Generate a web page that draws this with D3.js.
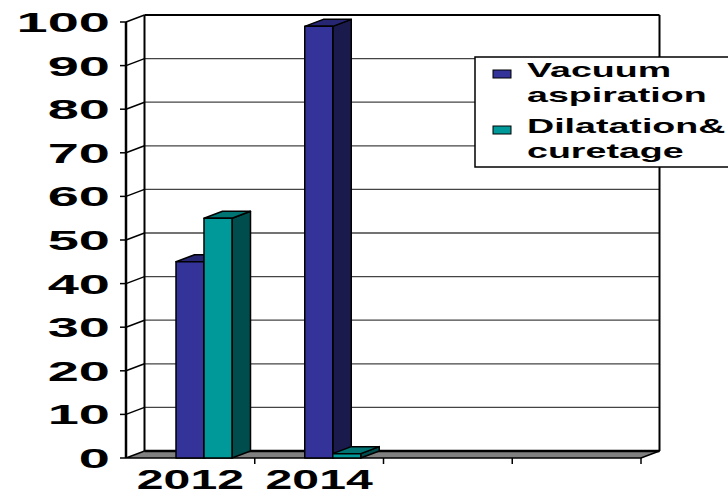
<!DOCTYPE html>
<html>
<head>
<meta charset="utf-8">
<script src="https://cdn.jsdelivr.net/npm/d3@7"></script>
<style>
  body { margin: 0; background: #fff; }
  svg { display: block; }
</style>
</head>
<body>
<div id="container"></div>
<script>
// data
const categories = ["2012", "2014", " ", "  "];
const seriesNames = ["Vacuum aspiration", "Dilatation& curetage"];
const legendLines = [["Vacuum", "aspiration"], ["Dilatation&", "curetage"]];
const vacuum = [45, 99, null, null];
const dilatation = [55, 1, null, null];
const yTicks = [0, 10, 20, 30, 40, 50, 60, 70, 80, 90, 100];

const width = 728, height = 492;
const depthX = 18.5, depthY = 7;   // oblique depth of the 3D box
const font = "Arial, 'Liberation Sans', sans-serif";

const colors = [
    { front: "#333399", side: "#1a1a4d", top: "#262673" },
    { front: "#009999", side: "#004d4d", top: "#007373" }
];

const x = d3.scaleBand().domain(categories).range([126, 641]);
const y = d3.scaleLinear().domain([0, 100]).range([458, 22]);
const xSub = d3.scaleBand().domain(seriesNames).range([50, 106]);

const svg = d3.create("svg")
    .attr("width", width)
    .attr("height", height)
    .attr("viewBox", [0, 0, width, height]);

const x0 = x.range()[0], x1 = x.range()[1];

/* ---------- back wall + gridlines ---------- */
const wall = svg.append("g");
wall.selectAll("line.grid")
    .data(yTicks.filter(t => t > 0))
    .join("line")
    .attr("x1", x0 + depthX).attr("x2", x1 + depthX)
    .attr("y1", d => y(d) - depthY).attr("y2", d => y(d) - depthY)
    .attr("stroke", d => d === 100 ? "#000" : "#444")
    .attr("stroke-width", d => d === 100 ? 2 : 1.3);

// left side wall connectors
wall.selectAll("line.conn")
    .data(yTicks.filter(t => t > 0))
    .join("line")
    .attr("x1", x0).attr("y1", d => y(d))
    .attr("x2", x0 + depthX).attr("y2", d => y(d) - depthY)
    .attr("stroke", "#000").attr("stroke-width", 1.5);

// wall verticals
[x0 + depthX, x1 + depthX].forEach(px => {
    wall.append("line")
        .attr("x1", px).attr("x2", px)
        .attr("y1", y(100) - depthY).attr("y2", y(0) - depthY)
        .attr("stroke", "#000").attr("stroke-width", 2);
});

/* ---------- floor ---------- */
svg.append("path")
    .attr("d", `M${x0},${y(0)}L${x1},${y(0)}L${x1 + depthX},${y(0) - depthY}L${x0 + depthX},${y(0) - depthY}Z`)
    .attr("fill", "#808080")
    .attr("stroke", "#000")
    .attr("stroke-width", 1.5);
svg.append("line")
    .attr("x1", x0 + depthX).attr("x2", x1 + depthX)
    .attr("y1", y(0) - depthY).attr("y2", y(0) - depthY)
    .attr("stroke", "#000").attr("stroke-width", 2.5);

/* ---------- front y axis ---------- */
svg.append("line")
    .attr("x1", x0).attr("x2", x0)
    .attr("y1", y(100)).attr("y2", y(0))
    .attr("stroke", "#000").attr("stroke-width", 2.5);

svg.selectAll("line.ytick")
    .data(yTicks)
    .join("line")
    .attr("x1", x0 - 6).attr("x2", x0)
    .attr("y1", d => y(d)).attr("y2", d => y(d))
    .attr("stroke", "#000").attr("stroke-width", 1.5);

svg.selectAll("text.ylab")
    .data(yTicks)
    .join("text")
    .attr("transform", d => `translate(110,${y(d) + 10}) scale(2,1)`)
    .attr("text-anchor", "end")
    .attr("font-family", font)
    .attr("font-weight", "bold")
    .attr("font-size", 28)
    .text(d => d);

/* ---------- x ticks + labels ---------- */
svg.selectAll("line.xtick")
    .data(categories.slice(1).concat(["end"]))
    .join("line")
    .attr("x1", (d, i) => x0 + x.step() * (i + 1))
    .attr("x2", (d, i) => x0 + x.step() * (i + 1))
    .attr("y1", y(0)).attr("y2", y(0) + 6)
    .attr("stroke", "#000").attr("stroke-width", 1.5);

svg.selectAll("text.xlab")
    .data(categories)
    .join("text")
    .attr("transform", d => `translate(${x(d) + x.bandwidth() / 2},489) scale(1.72,1)`)
    .attr("text-anchor", "middle")
    .attr("font-family", font)
    .attr("font-weight", "bold")
    .attr("font-size", 28)
    .text(d => d.trim());

/* ---------- 3D bars ---------- */
const bars = [];
categories.forEach((c, i) => {
    [vacuum, dilatation].forEach((vals, s) => {
        if (vals[i] == null) return;
        bars.push({ cat: c, s, v: vals[i] });
    });
});

const barG = svg.append("g");
bars.forEach(b => {
    const bx = x(b.cat) + xSub(seriesNames[b.s]);
    const bw = xSub.bandwidth();
    const yt = y(b.v), yb = y(0);
    const col = colors[b.s];
    const g = barG.append("g")
        .attr("stroke", "#000")
        .attr("stroke-width", 1.5)
        .attr("stroke-linejoin", "round");
    // side
    g.append("path")
        .attr("d", `M${bx + bw},${yb}L${bx + bw},${yt}L${bx + bw + depthX},${yt - depthY}L${bx + bw + depthX},${yb - depthY}Z`)
        .attr("fill", col.side);
    // top
    g.append("path")
        .attr("d", `M${bx},${yt}L${bx + bw},${yt}L${bx + bw + depthX},${yt - depthY}L${bx + depthX},${yt - depthY}Z`)
        .attr("fill", col.top);
    // front
    g.append("rect")
        .attr("x", bx).attr("y", yt)
        .attr("width", bw).attr("height", yb - yt)
        .attr("fill", col.front);
});

/* ---------- legend ---------- */
const legend = svg.append("g");
legend.append("rect")
    .attr("x", 475).attr("y", 57)
    .attr("width", 270).attr("height", 110)
    .attr("fill", "#fff")
    .attr("stroke", "#000").attr("stroke-width", 1.5);

legendLines.forEach((lines, s) => {
    const top = 63 + s * 56;
    legend.append("rect")
        .attr("x", 493).attr("y", top + 7)
        .attr("width", 18).attr("height", 8)
        .attr("fill", colors[s].front)
        .attr("stroke", "#000").attr("stroke-width", 1);
    lines.forEach((t, j) => {
        legend.append("text")
            .attr("transform", `translate(527,${top + 14 + j * 25}) scale(1.88,1)`)
            .attr("font-family", font)
            .attr("font-weight", "bold")
            .attr("font-size", 20)
            .text(t);
    });
});

document.getElementById("container").append(svg.node());
</script>
</body>
</html>
